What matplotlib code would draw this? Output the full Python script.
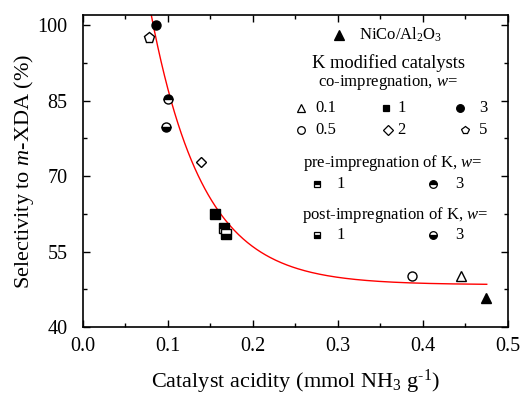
import numpy as np
import matplotlib
matplotlib.use("Agg")
import matplotlib.pyplot as plt

plt.rcParams['font.family'] = ['Liberation Serif', 'DejaVu Serif']
plt.rcParams['mathtext.fontset'] = 'custom'
plt.rcParams['mathtext.rm'] = 'Liberation Serif'
plt.rcParams['mathtext.it'] = 'Liberation Serif:italic'

# data: (acidity, selectivity)
nico_x, nico_y = [0.474], [45.7]
co_w01_x, co_w01_y = [0.445], [50.2]
co_w05_x, co_w05_y = [0.387], [50.1]
co_w1_x, co_w1_y = [0.155], [62.4]
co_w2_x, co_w2_y = [0.139], [72.8]
co_w3_x, co_w3_y = [0.086], [100.0]
co_w5_x, co_w5_y = [0.078], [97.4]
pre_w1_x, pre_w1_y = [0.166], [59.6]
pre_w3_x, pre_w3_y = [0.100], [85.3]
post_w1_x, post_w1_y = [0.168], [58.5]
post_w3_x, post_w3_y = [0.098], [79.7]

# exponential decay fit (red line): y = y0 + A*exp(-x/t)
FIT_Y0 = 48.4
FIT_A = 200.0
FIT_T = 0.061
FIT_XMIN, FIT_XMAX = 0.080, 0.475

fig = plt.figure(figsize=(5.23, 3.99), dpi=100)
ax = fig.add_axes([0.1587, 0.1805, 0.8126, 0.7819])

xf = np.linspace(FIT_XMIN, FIT_XMAX, 300)
ax.plot(xf, FIT_Y0 + FIT_A * np.exp(-xf / FIT_T), color='red', lw=1.0, zorder=1)

ms = 6.5
common = dict(ls='none', color='black', markeredgewidth=1.0, zorder=3)
ax.plot(nico_x, nico_y, marker='^', markerfacecolor='black', markersize=ms + 0.5, **common)
ax.plot(co_w01_x, co_w01_y, marker='^', markerfacecolor='white', markersize=ms + 0.5, **common)
ax.plot(co_w05_x, co_w05_y, marker='o', markerfacecolor='white', markersize=ms, **common)
ax.plot(co_w1_x, co_w1_y, marker='s', markerfacecolor='black', markersize=ms, **common)
ax.plot(co_w2_x, co_w2_y, marker='D', markerfacecolor='white', markersize=ms - 1, **common)
ax.plot(co_w3_x, co_w3_y, marker='o', markerfacecolor='black', markersize=ms, **common)
ax.plot(co_w5_x, co_w5_y, marker='p', markerfacecolor='white', markersize=ms + 1.5, **common)
ax.plot(pre_w1_x, pre_w1_y, marker='s', fillstyle='top', markerfacecolor='black',
        markerfacecoloralt='white', markersize=ms, **common)
ax.plot(pre_w3_x, pre_w3_y, marker='o', fillstyle='top', markerfacecolor='black',
        markerfacecoloralt='white', markersize=ms, **common)
ax.plot(post_w1_x, post_w1_y, marker='s', fillstyle='bottom', markerfacecolor='black',
        markerfacecoloralt='white', markersize=ms, **common)
ax.plot(post_w3_x, post_w3_y, marker='o', fillstyle='bottom', markerfacecolor='black',
        markerfacecoloralt='white', markersize=ms, **common)

ax.set_xlim(0, 0.5)
ax.set_ylim(40, 102)
ax.set_xticks(np.arange(0, 0.51, 0.1))
ax.set_xticks(np.arange(0.05, 0.5, 0.1), minor=True)
ax.set_xticklabels(['0.0', '0.1', '0.2', '0.3', '0.4', '0.5'])
ax.set_yticks([40, 55, 70, 85, 100])
ax.set_yticks([47.5, 62.5, 77.5, 92.5], minor=True)
ax.tick_params(which='both', direction='in', top=True, right=True, labelsize=14.5, width=1.0)
ax.tick_params(which='major', length=5)
ax.tick_params(which='minor', length=3)
ax.tick_params(axis='x', which='major', pad=7)
ax.tick_params(axis='y', which='major', pad=11)
for s in ax.spines.values():
    s.set_linewidth(1.2)

ax.set_xlabel('Catalyst acidity (mmol NH$_3$ g$^{\\text{-}1}$)', fontsize=16, labelpad=9)
ax.set_ylabel('Selectivity to $\\mathit{m}$-XDA (%)', fontsize=16, labelpad=1)

# legend block built by hand (axes fraction coordinates)
T = ax.transAxes
lms = 5.5
lk = dict(transform=T, ls='none', color='black', markeredgewidth=0.9, clip_on=False)
fs = 12

ax.plot([0.602], [0.936], marker='^', markerfacecolor='black', markersize=lms + 1, **lk)
ax.text(0.650, 0.936, 'NiCo/Al$_2$O$_3$', transform=T, fontsize=fs, va='center', ha='left')
ax.text(0.718, 0.845, 'K modified catalysts', transform=T, fontsize=fs + 1.3, va='center', ha='center')
ax.text(0.718, 0.783, 'co-impregnation, $\\mathit{w}$=', transform=T, fontsize=fs, va='center', ha='center')

row1, row2 = 0.702, 0.632
ax.plot([0.513], [row1], marker='^', markerfacecolor='white', markersize=lms, **lk)
ax.text(0.546, row1, '0.1', transform=T, fontsize=fs, va='center')
ax.plot([0.713], [row1], marker='s', markerfacecolor='black', markersize=lms - 0.5, **lk)
ax.text(0.740, row1, '1', transform=T, fontsize=fs, va='center')
ax.plot([0.887], [row1], marker='o', markerfacecolor='black', markersize=lms, **lk)
ax.text(0.932, row1, '3', transform=T, fontsize=fs, va='center')
ax.plot([0.513], [row2], marker='o', markerfacecolor='white', markersize=lms, **lk)
ax.text(0.546, row2, '0.5', transform=T, fontsize=fs, va='center')
ax.plot([0.718], [row2], marker='D', markerfacecolor='white', markersize=lms - 0.5, **lk)
ax.text(0.740, row2, '2', transform=T, fontsize=fs, va='center')
ax.plot([0.900], [row2], marker='p', markerfacecolor='white', markersize=lms + 0.5, **lk)
ax.text(0.932, row2, '5', transform=T, fontsize=fs, va='center')

ax.text(0.729, 0.526, 'pre-impregnation of K, $\\mathit{w}$=', transform=T, fontsize=fs, va='center', ha='center')
row3 = 0.458
ax.plot([0.551], [row3], marker='s', fillstyle='top', markerfacecolor='black',
        markerfacecoloralt='white', markersize=lms - 0.5, **lk)
ax.text(0.596, row3, '1', transform=T, fontsize=fs, va='center')
ax.plot([0.824], [row3], marker='o', fillstyle='top', markerfacecolor='black',
        markerfacecoloralt='white', markersize=lms, **lk)
ax.text(0.876, row3, '3', transform=T, fontsize=fs, va='center')

ax.text(0.734, 0.359, 'post-impregnation of K, $\\mathit{w}$=', transform=T, fontsize=fs, va='center', ha='center')
row4 = 0.295
ax.plot([0.551], [row4], marker='s', fillstyle='bottom', markerfacecolor='black',
        markerfacecoloralt='white', markersize=lms - 0.5, **lk)
ax.text(0.596, row4, '1', transform=T, fontsize=fs, va='center')
ax.plot([0.824], [row4], marker='o', fillstyle='bottom', markerfacecolor='black',
        markerfacecoloralt='white', markersize=lms, **lk)
ax.text(0.876, row4, '3', transform=T, fontsize=fs, va='center')

fig.savefig('out.png', dpi=100)
